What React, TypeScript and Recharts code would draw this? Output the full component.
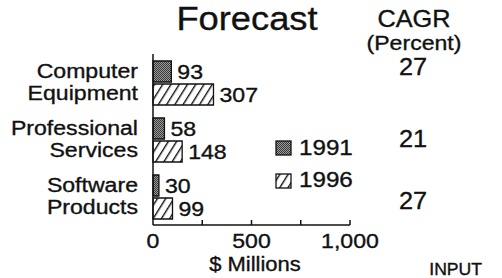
import React from 'react';
import { BarChart, Bar, XAxis, YAxis, LabelList } from 'recharts';

const categories = ['Computer Equipment', 'Professional Services', 'Software Products'];
const v1991 = [93, 58, 30];
const v1996 = [307, 148, 99];
const cagr = [27, 21, 27];
const xTicks = [0, 250, 500, 750, 1000];
const xTickLabels: Record<number, string> = { 0: '0', 500: '500', 1000: '1,000' };
const seriesNames = ['1991', '1996'];

const data = categories.map((name, i) => ({ name, v1991: v1991[i], v1996: v1996[i] }));

const FONT = '"Liberation Sans", Arial, Helvetica, sans-serif';
const SX = 1.1;
const INK = '#111';

function ST({ x, y, size, anchor = 'start', children }: any) {
  return (
    <text
      transform={`translate(${x},${y}) scale(${SX},1)`}
      fontSize={size}
      textAnchor={anchor}
      fill={INK}
      stroke={INK}
      strokeWidth={0.35}
      fontFamily={FONT}
    >
      {children}
    </text>
  );
}

function Patterns({ prefix }: { prefix: string }) {
  return (
    <defs>
      <pattern id={`${prefix}stip`} width="2" height="2" patternUnits="userSpaceOnUse">
        <rect width="2" height="2" fill="#9a9a9a" />
        <rect x="0" y="0" width="1" height="1" fill="#3a3a3a" />
        <rect x="1" y="1" width="1" height="1" fill="#3a3a3a" />
      </pattern>
      <pattern id={`${prefix}hatch`} width="7" height="10" patternUnits="userSpaceOnUse" patternTransform="rotate(32)">
        <rect width="7" height="10" fill="#fff" />
        <rect x="0" y="0" width="1.4" height="10" fill="#111" />
      </pattern>
    </defs>
  );
}

const YTick = (props: any) => {
  const { y, payload } = props;
  const words = String(payload.value).split(' ');
  return (
    <g>
      <ST x={138} y={y - 5} size={21} anchor="end">{words[0]}</ST>
      <ST x={138} y={y + 17} size={21} anchor="end">{words[1]}</ST>
    </g>
  );
};

const XTick = (props: any) => {
  const { x, y, payload } = props;
  const label = xTickLabels[payload.value];
  return (
    <g>
      {payload.value !== 0 && <line x1={x} x2={x} y1={y} y2={y - 5} stroke={INK} strokeWidth={1.5} />}
      {label !== undefined && <ST x={x} y={y + 23} size={21} anchor="middle">{label}</ST>}
    </g>
  );
};

const ValueLabel = (props: any) => {
  const { x, y, width, height, value } = props;
  return <ST x={x + width + 6} y={y + height / 2 + 7.5} size={21}>{value}</ST>;
};

export default function App() {
  return (
    <div style={{ position: 'absolute', left: 0, top: 0, width: 502, height: 278, background: '#fff' }}>
      <BarChart
        width={502}
        height={278}
        data={data}
        layout="vertical"
        margin={{ top: 54, right: 152, bottom: 23, left: 0 }}
        barGap={2}
        barSize={21}
      >
        <Patterns prefix="c-" />
        <XAxis
          type="number"
          domain={[0, 1000]}
          ticks={xTicks}
          interval={0}
          tickLine={false}
          tickSize={0}
          tickMargin={0}
          height={30}
          axisLine={{ stroke: INK, strokeWidth: 1.5 }}
          tick={<XTick />}
        />
        <YAxis
          type="category"
          dataKey="name"
          width={153}
          tickLine={false}
          axisLine={{ stroke: INK, strokeWidth: 1.5 }}
          tick={<YTick />}
        />
        <Bar dataKey="v1991" fill="url(#c-stip)" stroke={INK} strokeWidth={1.3} isAnimationActive={false}>
          <LabelList dataKey="v1991" content={<ValueLabel />} />
        </Bar>
        <Bar dataKey="v1996" fill="url(#c-hatch)" stroke={INK} strokeWidth={1.3} isAnimationActive={false}>
          <LabelList dataKey="v1996" content={<ValueLabel />} />
        </Bar>
      </BarChart>
      <svg width={502} height={278} style={{ position: 'absolute', left: 0, top: 0, pointerEvents: 'none' }}>
        <Patterns prefix="l-" />
        <ST x={247} y={30} size={33} anchor="middle">Forecast</ST>
        <ST x={414} y={27} size={23} anchor="middle">CAGR</ST>
        <ST x={414} y={50} size={21} anchor="middle">(Percent)</ST>
        <ST x={413} y={75} size={23} anchor="middle">{cagr[0]}</ST>
        <ST x={413} y={147} size={23} anchor="middle">{cagr[1]}</ST>
        <ST x={413} y={209} size={23} anchor="middle">{cagr[2]}</ST>
        {seriesNames.map((s, i) => (
          <g key={s}>
            <rect x={276} y={141 + i * 33} width={15} height={14} fill={i === 0 ? 'url(#l-stip)' : 'url(#l-hatch)'} stroke={INK} strokeWidth={1.3} />
            <ST x={299} y={155 + i * 32} size={22}>{s}</ST>
          </g>
        ))}
        <ST x={255} y={271} size={20} anchor="middle">$ Millions</ST>
        <ST x={482} y={275} size={16} anchor="end">INPUT</ST>
      </svg>
    </div>
  );
}
